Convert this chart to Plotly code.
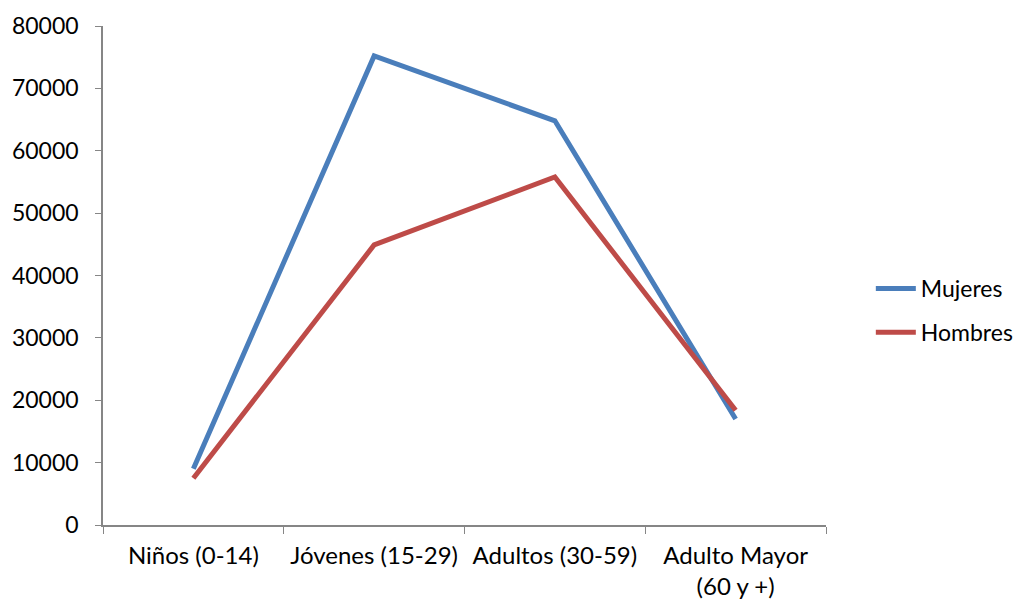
import plotly.graph_objects as go

categories = ["Niños (0-14)", "Jóvenes (15-29)", "Adultos (30-59)", "Adulto Mayor<br>(60 y +)"]
mujeres = [9000, 75200, 64800, 17000]
hombres = [7500, 44900, 55800, 18400]
y_ticks = [0, 10000, 20000, 30000, 40000, 50000, 60000, 70000, 80000]

FONT = "Lato"
fig = go.Figure()
fig.add_trace(go.Scatter(x=categories, y=mujeres, name="Mujeres", mode="lines",
                         line=dict(color="#4A7EBB", width=5), legendgroup="a"))
fig.add_trace(go.Scatter(x=categories, y=hombres, name="Hombres", mode="lines",
                         line=dict(color="#BE4B48", width=5), legendgroup="b"))

fig.update_layout(
    width=1017, height=598,
    margin=dict(l=95, r=199, t=18, b=81, autoexpand=False),
    paper_bgcolor="white", plot_bgcolor="white",
    font=dict(family=FONT, size=24, color="black"),
    showlegend=True,
    legend=dict(x=1.062, y=0.43, xanchor="left", yanchor="middle",
                tracegroupgap=11, font=dict(size=23), itemwidth=40,
                borderwidth=0, bgcolor="rgba(0,0,0,0)"),
)
fig.update_xaxes(type="category", range=[-0.5, 3.5], showline=True, linecolor="#868686",
                 linewidth=1.5, ticks="outside", tickson="boundaries", ticklen=7,
                 tickcolor="#868686", showgrid=False, zeroline=False,
                 ticklabelstandoff=8, tickfont=dict(size=24))
fig.update_yaxes(range=[0, 80000], tickvals=y_ticks, ticktext=[str(v) for v in y_ticks],
                 showline=True, linecolor="#868686", linewidth=1.5, ticks="outside",
                 ticklen=6, tickcolor="#868686", showgrid=False, zeroline=False,
                 ticklabelstandoff=12, tickfont=dict(size=23))

fig.write_html("out.html")
